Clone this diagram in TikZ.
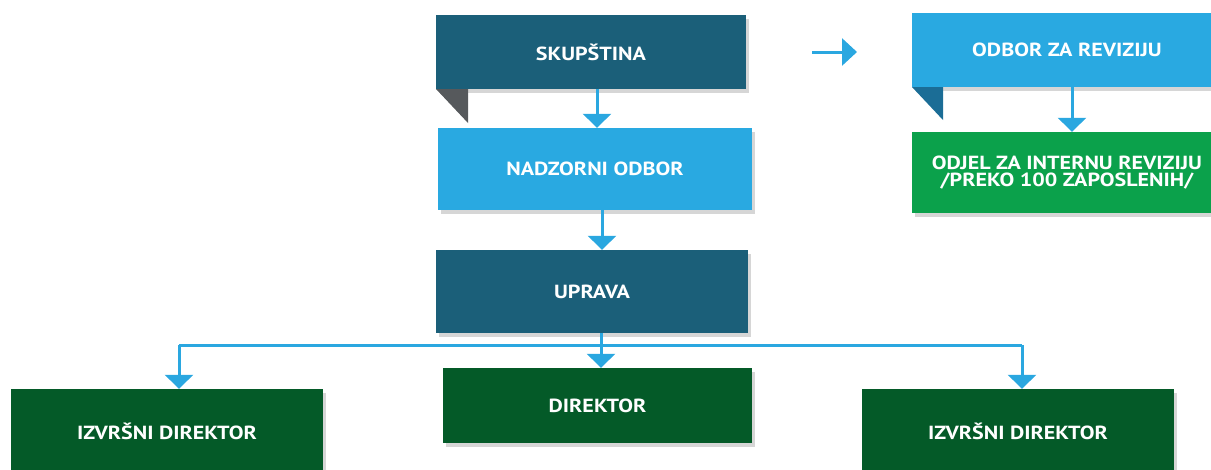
\documentclass[tikz,border=0pt]{standalone}
\usepackage{fontspec}
\setmainfont{PT Sans}[FakeStretch=1.16]
\usetikzlibrary{arrows.meta,shadows}
\definecolor{teal}{HTML}{1B5F79}
\definecolor{sky}{HTML}{29A9E1}
\definecolor{forest}{HTML}{045A28}
\definecolor{leaf}{HTML}{0BA14B}
\definecolor{foldgray}{HTML}{56595C}
\definecolor{foldblue}{HTML}{1B6D96}
\definecolor{arrowblue}{HTML}{2AA7E0}
\tikzset{
  unit/.style={rectangle, inner sep=0pt, text=white,
    font=\bfseries\fontsize{19}{17}\selectfont, align=center,
    drop shadow={shadow xshift=3pt, shadow yshift=-4pt, opacity=0.16, fill=black}},
  darkunit/.style={unit, fill=teal},
  lightunit/.style={unit, fill=sky},
  deptunit/.style={unit, fill=forest},
  auditunit/.style={unit, fill=leaf},
  link/.style={draw=arrowblue, line width=3pt,
    -{Triangle[width=28pt,length=14pt]}},
}
\begin{document}
\begin{tikzpicture}[x=1pt,y=-1pt]
  \useasboundingbox (0,0) rectangle (1211,469);

  % governing bodies
  \node[darkunit, minimum width=310pt, minimum height=74pt] (sk) at (591,52) {SKUPŠTINA};
  \fill[foldgray] (436,89) -- (468,89) -- (468,123) -- cycle;
  \node[lightunit, minimum width=314pt, minimum height=82pt] (nad) at (595,169) {NADZORNI ODBOR};
  \node[darkunit, minimum width=312pt, minimum height=83pt] (up) at (592,291.5) {UPRAVA};

  % executives
  \node[deptunit, minimum width=309pt, minimum height=75pt] (dir) at (597.5,405.5) {DIREKTOR};
  \node[deptunit, minimum width=312pt, minimum height=84pt] (izl) at (167,431) {IZVRŠNI DIREKTOR};
  \node[deptunit, minimum width=312pt, minimum height=84pt] (izr) at (1018,431) {IZVRŠNI DIREKTOR};

  % audit branch
  \node[lightunit, minimum width=310pt, minimum height=74pt] (odr) at (1067,50) {ODBOR ZA REVIZIJU};
  \fill[foldblue] (912,87) -- (943,87) -- (943,120) -- cycle;
  \node[auditunit, minimum width=310pt, minimum height=81pt] (odj) at (1067,172.5)
        {ODJEL ZA INTERNU REVIZIJU\\/PREKO 100 ZAPOSLENIH/};

  % connector columns
  \coordinate (c1) at (597,0);
  \coordinate (c2) at (602,0);
  \coordinate (c3) at (601,0);
  \coordinate (c4) at (1072,0);
  \coordinate (bl) at (179,345);
  \coordinate (br) at (1022,345);
  \coordinate (rs) at (812,52);
  \coordinate (re) at (857,52);

  \draw[link] (sk.south -| c1) -- (nad.north -| c1);
  \draw[link] (nad.south -| c2) -- (up.north -| c2);
  \draw[link] (up.south -| c3) -- (dir.north -| c3);
  \draw[draw=arrowblue, line width=3pt] (bl) -- (br);
  \draw[link] (bl) -- (izl.north -| bl);
  \draw[link] (br) -- (izr.north -| br);
  \draw[link] (odr.south -| c4) -- (odj.north -| c4);
  \draw[link, -{Triangle[width=27pt,length=15pt]}] (rs) -- (re);
\end{tikzpicture}
\end{document}
